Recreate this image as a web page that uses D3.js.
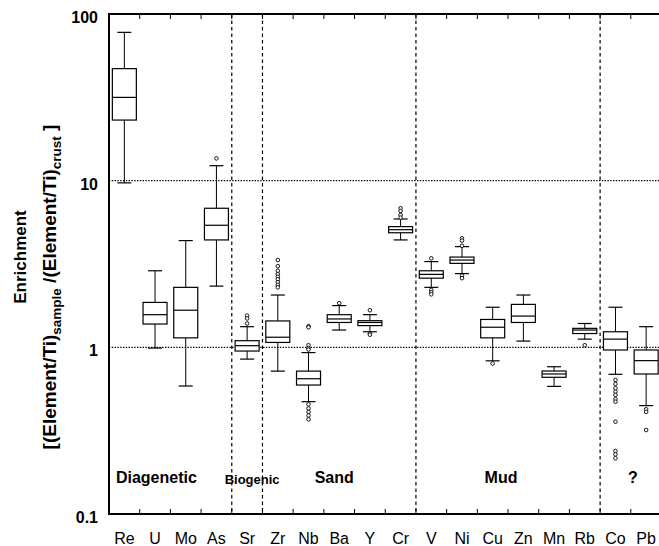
<!DOCTYPE html>
<html>
<head>
<meta charset="utf-8">
<script src="https://cdn.jsdelivr.net/npm/d3@7/dist/d3.min.js"></script>
<style>
  html, body { margin: 0; padding: 0; background: #fff; }
  svg { display: block; font-family: "Liberation Sans", Arial, Helvetica, sans-serif; }
</style>
</head>
<body>
<svg id="chart" width="659" height="546"></svg>
<script>
// Element enrichment relative to crust, normalised to Ti (box = quartiles, whiskers, outliers)
const categories = ["Re","U","Mo","As","Sr","Zr","Nb","Ba","Y","Cr","V","Ni","Cu","Zn","Mn","Rb","Co","Pb"];
const whiskerLow  = [9.7, 0.99, 0.586, 2.33, 0.85, 0.72, 0.472, 1.27, 1.24, 4.41, 2.29, 2.77, 0.83, 1.09, 0.583, 1.12, 0.689, 0.447];
const quartile1   = [23.1, 1.38, 1.14, 4.41, 0.95, 1.07, 0.594, 1.41, 1.35, 4.87, 2.60, 3.19, 1.14, 1.41, 0.661, 1.21, 0.964, 0.692];
const medians     = [31.6, 1.57, 1.67, 5.40, 1.023, 1.15, 0.648, 1.48, 1.41, 5.08, 2.74, 3.34, 1.32, 1.54, 0.692, 1.27, 1.12, 0.832];
const quartile3   = [47, 1.86, 2.29, 6.83, 1.096, 1.44, 0.72, 1.57, 1.445, 5.30, 2.88, 3.48, 1.47, 1.81, 0.721, 1.30, 1.24, 0.964];
const whiskerHigh = [77.6, 2.88, 4.37, 12.3, 1.33, 2.06, 0.93, 1.78, 1.57, 5.89, 3.27, 4.02, 1.74, 2.06, 0.765, 1.39, 1.74, 1.33];
const outliers = [
  [], [], [], [13.6],
  [1.55, 1.49, 1.39],
  [3.34, 3.07, 2.88, 2.75, 2.65, 2.56, 2.46, 2.37, 2.29],
  [1.34, 1.32, 1.03, 0.99, 0.97, 0.455, 0.43, 0.41, 0.39, 0.37],
  [1.84],
  [1.67, 1.21, 1.19],
  [6.83, 6.58, 6.22, 6.0],
  [3.42, 2.21, 2.14, 2.08],
  [4.51, 4.37, 4.07, 2.69, 2.60],
  [0.80], [], [],
  [1.03],
  [0.637, 0.603, 0.568, 0.542, 0.518, 0.488, 0.472, 0.358, 0.239, 0.228, 0.216],
  [0.425, 0.41, 0.319]
];
const yTickValues = [100, 10, 1, 0.1];
const yTickLabels = ["100", "10", "1", "0.1"];
const gridValues = [10, 1];
const groupNames  = ["Diagenetic", "Biogenic", "Sand", "Mud", "?"];
const groupFirst  = ["Re", "Sr", "Zr", "V", "Co"];
const groupLast   = ["As", "Sr", "Cr", "Rb", "Pb"];

const svg = d3.select("#chart");
const plotLeft = 109, plotRight = 661.5, plotTop = 14, plotBottom = 514;

const x = d3.scaleBand().domain(categories).range([plotLeft, plotRight]).padding(0);
const y = d3.scaleLog().domain([0.1, 100]).range([plotBottom, plotTop]);
const boxW = 24, capW = 14;

// horizontal dotted reference lines
svg.append("g").selectAll("line").data(gridValues).join("line")
  .attr("x1", plotLeft).attr("x2", plotRight)
  .attr("y1", d => y(d)).attr("y2", d => y(d))
  .attr("stroke", "#000").attr("stroke-width", 1.3)
  .attr("stroke-dasharray", "1.4,1.4");

// vertical dashed group separators
const seps = groupFirst.slice(1).map(c => x(c));
svg.append("g").selectAll("line").data(seps).join("line")
  .attr("x1", d => d).attr("x2", d => d)
  .attr("y1", plotTop).attr("y2", plotBottom)
  .attr("stroke", "#000").attr("stroke-width", 1.2)
  .attr("stroke-dasharray", "3.5,3");

// inner ticks at category boundaries, top and bottom
const bounds = categories.slice(1).map(c => x(c));
const tk = svg.append("g").attr("stroke", "#000").attr("stroke-width", 1);
tk.selectAll("line.t").data(bounds).join("line").attr("class", "t")
  .attr("x1", d => d).attr("x2", d => d).attr("y1", plotTop).attr("y2", plotTop + 5);
tk.selectAll("line.b").data(bounds).join("line").attr("class", "b")
  .attr("x1", d => d).attr("x2", d => d).attr("y1", plotBottom).attr("y2", plotBottom - 5);

// box plots
const rows = categories.map((c, i) => ({
  c, lo: whiskerLow[i], q1: quartile1[i], med: medians[i], q3: quartile3[i], hi: whiskerHigh[i], out: outliers[i]
}));
const g = svg.append("g").selectAll("g").data(rows).join("g")
  .attr("transform", d => `translate(${x(d.c) + x.bandwidth() / 2},0)`);

g.append("line").attr("y1", d => y(d.hi)).attr("y2", d => y(d.q3))
  .attr("stroke", "#000").attr("stroke-width", 1);
g.append("line").attr("y1", d => y(d.q1)).attr("y2", d => y(d.lo))
  .attr("stroke", "#000").attr("stroke-width", 1);
g.append("line").attr("x1", -capW / 2).attr("x2", capW / 2)
  .attr("y1", d => y(d.hi)).attr("y2", d => y(d.hi))
  .attr("stroke", "#000").attr("stroke-width", 1.2);
g.append("line").attr("x1", -capW / 2).attr("x2", capW / 2)
  .attr("y1", d => y(d.lo)).attr("y2", d => y(d.lo))
  .attr("stroke", "#000").attr("stroke-width", 1.2);
g.append("rect").attr("x", -boxW / 2).attr("width", boxW)
  .attr("y", d => y(d.q3)).attr("height", d => y(d.q1) - y(d.q3))
  .attr("fill", "#fff").attr("stroke", "#000").attr("stroke-width", 1.2);
g.append("line").attr("x1", -boxW / 2).attr("x2", boxW / 2)
  .attr("y1", d => y(d.med)).attr("y2", d => y(d.med))
  .attr("stroke", "#000").attr("stroke-width", 1.2);
g.selectAll("circle").data(d => d.out).join("circle")
  .attr("cx", 0).attr("cy", d => y(d)).attr("r", 1.8)
  .attr("fill", "#fff").attr("stroke", "#000").attr("stroke-width", 0.9);

// frame: top, left, bottom
svg.append("path")
  .attr("d", `M${plotRight},${plotTop}H${plotLeft}V${plotBottom}H${plotRight}`)
  .attr("stroke", "#000").attr("stroke-width", 2).attr("fill", "none");

// y axis labels
const yAxis = d3.axisLeft(y).tickValues(yTickValues).tickSize(0).tickPadding(11)
  .tickFormat((d, i) => yTickLabels[i]);
svg.append("g").attr("transform", `translate(${plotLeft},0)`).call(yAxis)
  .call(s => s.select(".domain").remove())
  .selectAll("text")
  .attr("dy", "8.5").attr("font-size", 16).attr("font-weight", "bold")
  .attr("fill", "#000");

// category labels
const xAxis = d3.axisBottom(x).tickSize(0);
svg.append("g").attr("transform", `translate(0,${plotBottom})`).call(xAxis)
  .call(s => s.select(".domain").remove())
  .selectAll("text")
  .attr("y", 30).attr("dy", 0).attr("font-size", 16)
  .attr("fill", "#000");
svg.selectAll("g.tick").each(function () { d3.select(this.parentNode).attr("font-family", null).attr("font-size", null); });

// group labels
const nudge = { "Diagenetic": -14, "Biogenic": 5, "Sand": -5, "Mud": -7, "?": 2 };
const groupSize = { "Biogenic": 13 };
svg.append("g").selectAll("text").data(groupNames).join("text")
  .attr("x", (d, i) => (x(groupFirst[i]) + x(groupLast[i]) + x.bandwidth()) / 2 + nudge[d])
  .attr("y", d => d === "Biogenic" ? 484 : 483)
  .attr("text-anchor", "middle").attr("font-weight", "bold")
  .attr("font-size", d => groupSize[d] || 16)
  .text(d => d);

// y axis title
svg.append("text")
  .attr("transform", "translate(26,257) rotate(-90)")
  .attr("text-anchor", "middle").attr("font-weight", "bold").attr("font-size", 17)
  .text("Enrichment");
const t2 = svg.append("text")
  .attr("transform", "translate(56,287) rotate(-90)")
  .attr("text-anchor", "middle").attr("font-weight", "bold").attr("font-size", 19);
t2.append("tspan").text("[(Element/Ti)");
t2.append("tspan").attr("font-size", 13.5).attr("dy", 4.5).text("sample");
t2.append("tspan").attr("dy", -4.5).text(" /(Element/Ti)");
t2.append("tspan").attr("font-size", 13.5).attr("dy", 4.5).text("crust");
t2.append("tspan").attr("dy", -4.5).text(" ]");
</script>
</body>
</html>
